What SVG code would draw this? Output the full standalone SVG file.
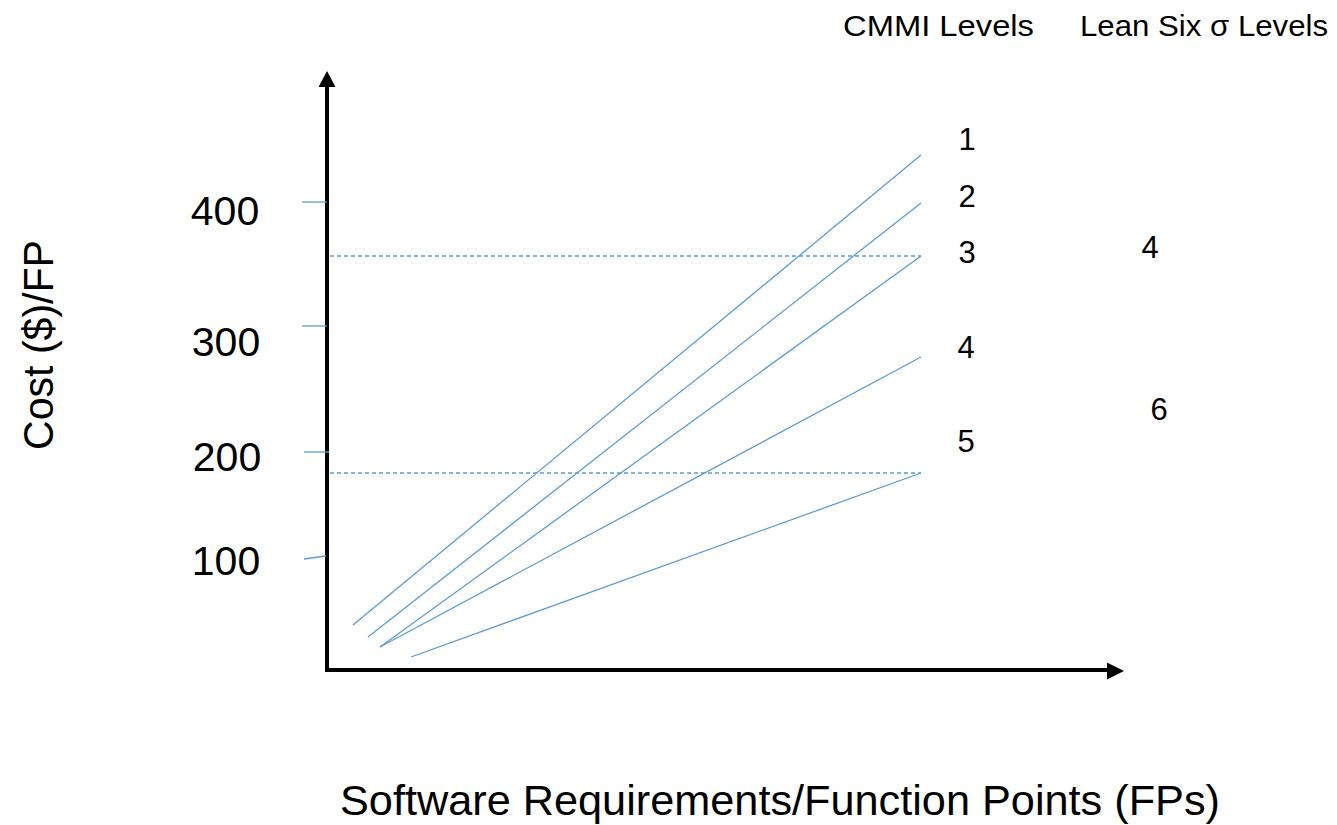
<svg xmlns="http://www.w3.org/2000/svg" width="1337" height="825" viewBox="0 0 1337 825">
<style>
  text { font-family: "Liberation Sans", Arial, sans-serif; fill: #000; }
  .ln { stroke: #5B9BD5; stroke-width: 1.3; fill: none; }
  .dash { stroke: #5B9BD5; stroke-width: 1.3; stroke-dasharray: 4 3; fill: none; }
  .axis { stroke: #000; stroke-width: 4; fill: none; }
  .tick { font-size: 41px; text-anchor: middle; }
  .lvl { font-size: 31px; text-anchor: middle; }
  .hdr { font-size: 30px; }
</style>
<rect width="1337" height="825" fill="#fff"/>
<g id="axes">
  <line class="axis" x1="327" y1="671" x2="327" y2="86"/>
  <polygon points="327,71 318.5,87 335.5,87" fill="#000"/>
  <line class="axis" x1="325" y1="670" x2="1108" y2="670"/>
  <polygon points="1124,671 1107,662.5 1107,679.5" fill="#000"/>
</g>
<g id="ticks">
  <line class="ln" x1="302" y1="202" x2="327" y2="202"/>
  <line class="ln" x1="302" y1="326" x2="327" y2="326"/>
  <line class="ln" x1="304" y1="452" x2="329" y2="452"/>
  <line class="ln" x1="304" y1="559" x2="326" y2="556"/>
  <text class="tick" x="225" y="225">400</text>
  <text class="tick" x="226" y="356">300</text>
  <text class="tick" x="227" y="471">200</text>
  <text class="tick" x="226" y="575">100</text>
</g>
<g id="connectors">
  <line class="dash" x1="330" y1="256" x2="921" y2="256"/>
  <line class="dash" x1="330" y1="473" x2="921" y2="473"/>
  <line class="ln" x1="353" y1="625" x2="921" y2="155"/>
  <line class="ln" x1="368" y1="637" x2="921" y2="203"/>
  <line class="ln" x1="380" y1="647" x2="921" y2="256"/>
  <line class="ln" x1="380" y1="647" x2="921" y2="357"/>
  <line class="ln" x1="411" y1="657" x2="921" y2="473"/>
</g>
<g id="cmmi-levels">
  <text class="hdr" x="843" y="36" textLength="191" lengthAdjust="spacingAndGlyphs">CMMI Levels</text>
  <text class="lvl" x="967" y="150">1</text>
  <text class="lvl" x="967" y="207">2</text>
  <text class="lvl" x="967" y="263">3</text>
  <text class="lvl" x="966" y="358">4</text>
  <text class="lvl" x="966" y="452">5</text>
</g>
<g id="sigma-levels">
  <text class="hdr" x="1080" y="36" textLength="248" lengthAdjust="spacingAndGlyphs">Lean Six σ Levels</text>
  <text class="lvl" x="1150" y="258">4</text>
  <text class="lvl" x="1159" y="420">6</text>
</g>
<g id="axis-labels">
  <text x="340" y="815" font-size="42" textLength="880" lengthAdjust="spacingAndGlyphs">Software Requirements/Function Points (FPs)</text>
  <text transform="translate(53,345) rotate(-90)" font-size="42" text-anchor="middle" textLength="210" lengthAdjust="spacingAndGlyphs">Cost ($)/FP</text>
</g>
</svg>
